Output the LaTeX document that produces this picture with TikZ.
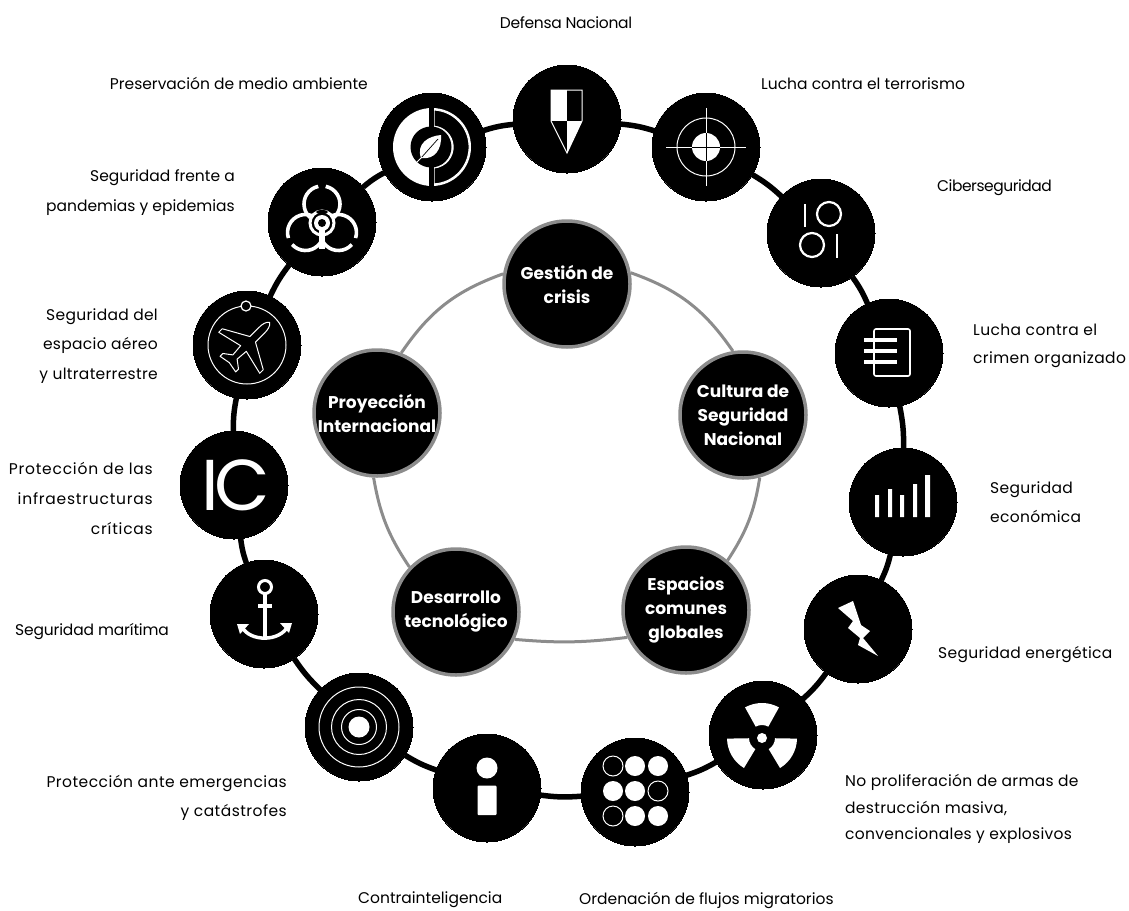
\documentclass[tikz,border=0pt]{standalone}
\usepackage{fontspec}
\setmainfont{Poppins}
\begin{document}
\begin{tikzpicture}[x=1pt,y=-1pt,
  hub/.style={circle,fill=black,draw=black,line width=0pt,minimum size=108pt,inner sep=0pt},
  core/.style={circle,fill=black,draw=black!45,line width=3.5pt,minimum size=126pt,inner sep=0pt,
    text=white,align=center,font=\fontsize{17}{24}\selectfont\bfseries},
  link/.style={line width=5.5pt,black},
  softlink/.style={line width=3pt,black!45},
  lbl/.style 2 args={inner sep=0pt,font=\fontsize{15.5}{#1}\selectfont\addfontfeatures{LetterSpace=#2}},
  thin white/.style={white,line width=1pt},
  icon line/.style={white,line width=2.2pt}]
\useasboundingbox (0,0) rectangle (1129,910);
\fill[white] (0,0) rectangle (1129,910);
% centre circle
\node[core] (crisis) at (567,284) {Gestión de\\crisis};
\node[core] (cultura) at (743,415) {Cultura de\\Seguridad\\Nacional};
\node[core] (espacios) at (686,610) {Espacios\\comunes\\globales};
\node[core] (desarrollo) at (456,612) {Desarrollo\\tecnológico};
\node[core] (proyeccion) at (377,413) {Proyección\\Internacional};
\draw[softlink] (crisis.10) to[bend left=18] (cultura.99);
\draw[softlink] (cultura.-75) to[bend left=12] (espacios.50);
\draw[softlink] (espacios.205) to[bend left=6] (desarrollo.-25);
\draw[softlink] (desarrollo.136) to[bend left=12] (proyeccion.-93);
\draw[softlink] (proyeccion.68) to[bend left=18] (crisis.171);
% outer hubs
\node[hub] (defensa) at (567,119) {};
\node[hub] (terror) at (706,147) {};
\node[hub] (ciber) at (821,233) {};
\node[hub] (crimen) at (889,353) {};
\node[hub] (econ) at (903,502) {};
\node[hub] (energia) at (858,629) {};
\node[hub] (nuclear) at (763,735) {};
\node[hub] (migra) at (635,792) {};
\node[hub] (contra) at (487,788) {};
\node[hub] (emerg) at (359,727) {};
\node[hub] (mar) at (264,614) {};
\node[hub,text=white,font=\fontsize{72}{72}\selectfont\addfontfeatures{LetterSpace=-6}] (infra) at (234,485) {\hspace{4pt}IC};
\node[hub] (aire) at (247,345) {};
\node[hub] (pandemia) at (322,222) {};
\node[hub] (medio) at (432,147) {};
\foreach \a/\b in {defensa/terror,terror/ciber,ciber/crimen,crimen/econ,econ/energia,energia/nuclear,nuclear/migra,migra/contra,contra/emerg,emerg/mar,mar/infra,infra/aire,aire/pandemia,pandemia/medio,medio/defensa}
  \draw[link] (\a) to[bend left=6] (\b);
% shield
\begin{scope}[shift={(567,119)}]
  \fill[white] (-16,-29) rectangle (0,2);
  \fill[white] (0,2) -- (15,2) -- (0,34) -- cycle;
  \draw[thin white] (-16,-29) -- (15,-29) -- (15,2) -- (0,34) -- (-16,2) -- cycle;
\end{scope}
% target
\begin{scope}[shift={(706,147)}]
  \draw[thin white] (0,0) circle (29);
  \fill[white] (0,0) circle (14);
  \draw[thin white] (-40,0) -- (-14,0) (14,0) -- (40,0) (0,-39) -- (0,-14) (0,14) -- (0,39);
  \draw[black,line width=1pt] (-14,0) -- (14,0) (0,-14) -- (0,14);
\end{scope}
% 10 01
\begin{scope}[shift={(821,233)}]
  \draw[icon line] (-16,-29) -- (-16,-6) (16,1) -- (16,25);
  \draw[icon line] (8,-19) circle (12) (-9,12) circle (12);
\end{scope}
% notebook
\begin{scope}[shift={(889,353)}]
  \draw[white,line width=1.6pt,rounded corners=2pt] (-15,-24) rectangle (21,23);
  \draw[white,line width=4pt] (-25,-13) -- (8,-13) (-25,-2) -- (8,-2) (-25,9) -- (8,9);
\end{scope}
% bars
\begin{scope}[shift={(903,502)}]
  \fill[white] (-28,-7) rectangle (-24,15) (-15,-13) rectangle (-11,15) (-3,-7) rectangle (1,15)
    (10,-18) rectangle (14,15) (22,-27) rectangle (27,15);
\end{scope}
% lightning
\begin{scope}[shift={(858,629)}]
  \fill[white] (-20,-21) -- (-5,-28) -- (3,-4) -- (12,2) -- (5,9) -- (20,27) -- (0,16) -- (2,9) -- (-10,-1) -- (-5,-8) -- cycle;
\end{scope}
% radiation
\begin{scope}[shift={(762,738)}]
  \fill[white] (0,0) circle (5);
  \foreach \t in {-90,30,150}
    \fill[white] ({\t-29}:35) arc[start angle={\t-29},delta angle=58,radius=35] -- ({\t+29}:13) arc[start angle={\t+29},delta angle=-58,radius=13] -- cycle;
\end{scope}
% dots
\begin{scope}[shift={(635,792)}]
  \foreach \p in {(0,-26),(23,-26),(-22,-1),(0,-1),(0,24),(23,24)}
    \fill[white] \p circle (10);
  \foreach \p in {(-22,-26),(23,-1),(-22,24)}
    \draw[thin white] \p circle (10);
\end{scope}
% info
\begin{scope}[shift={(487,788)}]
  \fill[white] (0,-20) circle (10.5);
  \fill[white,rounded corners=1pt] (-9.5,-2.5) rectangle (9.5,27);
\end{scope}
% concentric
\begin{scope}[shift={(359,727)}]
  \draw[thin white] (0,0) circle (40) (0,0) circle (27.5) (0,0) circle (17.5);
  \fill[white] (0,0) circle (10.5);
\end{scope}
% anchor
\begin{scope}[shift={(264,614)}]
  \draw[white,line width=3pt] (1,-27) circle (6.5);
  \draw[white,line width=3.5pt] (1,-20) -- (1,24) (-6,-8) -- (8,-8);
  \draw[white,line width=3.5pt] (-22,13) .. controls (-14,28) and (16,28) .. (24,12);
  \fill[white] (-27,10) -- (-15,10) -- (-24,20) -- cycle (28,9) -- (16,9) -- (25,19) -- cycle;
\end{scope}
% plane
\begin{scope}[shift={(247,345)}]
  \draw[thin white] (0,0) circle (39);
  \draw[draw=white,fill=black,line width=1.2pt] (-1,-39) circle (5);
  \draw[thin white,rotate=-45,line join=round] (0,-32) .. controls (3,-30) and (4,-26) .. (4,-20) -- (4,-8) -- (29,6) -- (29,11) -- (4,5) -- (3,17) -- (11,23) -- (11,27) -- (0,25)
   -- (-11,27) -- (-11,23) -- (-3,17) -- (-4,5) -- (-29,11) -- (-29,6) -- (-4,-8) -- (-4,-20) .. controls (-4,-26) and (-3,-30) .. (0,-32) -- cycle;
\end{scope}
% biohazard
\begin{scope}[shift={(322,223)}]
  \foreach \t in {-90,30,150} {
    \draw[white,line width=3.6pt] (\t:19) ++({\t+12}:18) arc[start angle={\t+12},delta angle=128,radius=18];
    \draw[white,line width=3.6pt] (\t:19) ++({\t-12}:18) arc[start angle={\t-12},delta angle=-128,radius=18];
  }
  \draw[white,line width=3pt] (0,0) circle (12);
  \fill[white] (0,0) circle (8);
  \fill[black] (0,0) circle (4);
  \fill[black] (0,-11) ellipse (6 and 2);
  \fill[white] (-3,5) rectangle (3,26);
\end{scope}
% leaf
\begin{scope}[shift={(432,147)}]
  \fill[white] (0,0) circle (39);
  \draw[draw=white,fill=black,line width=1pt] (2,-37) arc[start angle=-87,delta angle=174,radius=37] -- (2,21) arc[start angle=85,delta angle=-170,radius=21] -- cycle;
  \fill[black] (-3,-40) rectangle (1.5,40);
  \fill[black] (-1,0) circle (20.5);
  \fill[white] (-11,11) .. controls (-16,-3) and (-4,-11) .. (9,-12) .. controls (10,2) and (3,13) .. (-11,11) -- cycle;
  \draw[black,line width=.7pt] (-11,11) -- (6,-8);
  \draw[white,line width=.8pt] (-15,15) -- (-10,10);
\end{scope}
% labels
\node[lbl={28}{-2}] (l1) at (566,23) {Defensa Nacional};
\node[lbl={28}{0},anchor=west] (l2) at (761,84) {Lucha contra el terrorismo};
\node[lbl={28}{-3},anchor=west] (l3) at (937,188) {Ciberseguridad};
\node[lbl={28}{2.5},anchor=west,align=left] (l4) at (973,346) {Lucha contra el\\crimen organizado};
\node[lbl={29}{2},anchor=west,align=left] (l5) at (990,502) {Seguridad\\económica};
\node[lbl={28}{2},anchor=west] (l6) at (938,655) {Seguridad energética};
\node[lbl={26.5}{2},anchor=west,align=left] (l7) at (845,809) {No proliferación de armas de\\destrucción masiva,\\convencionales y explosivos};
\node[lbl={28}{0},anchor=west] (l8) at (579,900) {Ordenación de flujos migratorios};
\node[lbl={28}{0},anchor=west] (l9) at (358,900) {Contrainteligencia};
\node[lbl={28.5}{3},anchor=east,align=right] (l10) at (287,798) {Protección ante emergencias\\y catástrofes};
\node[lbl={28}{-1},anchor=west] (l11) at (15,632) {Seguridad marítima};
\node[lbl={30}{5},anchor=east,align=right] (l12) at (153,498) {Protección de las\\infraestructuras\\críticas};
\node[lbl={29.5}{2},anchor=east,align=right] (l13) at (158,346) {Seguridad del\\espacio aéreo\\y ultraterrestre};
\node[lbl={30}{0},anchor=east,align=right] (l14) at (235,193) {Seguridad frente a\\pandemias y epidemias};
\node[lbl={28}{0},anchor=east] (l15) at (368,83) {Preservación de medio ambiente};
\end{tikzpicture}
\end{document}
